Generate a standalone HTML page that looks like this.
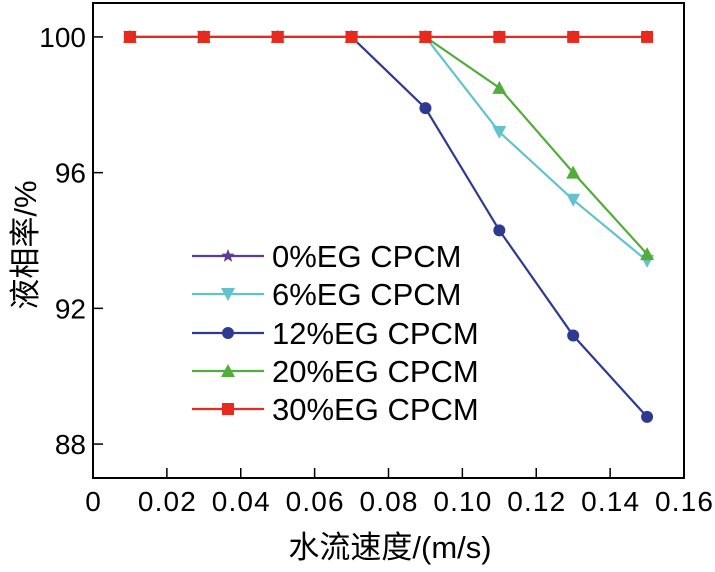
<!DOCTYPE html>
<html><head><meta charset="utf-8"><style>
html,body{margin:0;padding:0;background:#fff;}
svg text{font-family:"Liberation Sans","Noto Sans CJK SC",sans-serif;fill:#000;}
</style></head><body>
<svg id="chart" width="715" height="567" xmlns="http://www.w3.org/2000/svg"></svg>
<script>
const xValues=[0.01,0.03,0.05,0.07,0.09,0.11,0.13,0.15];
const s0=[100,100,100,100,100,100,100,100];
const s6=[100,100,100,100,100,97.2,95.2,93.4];
const s12=[100,100,100,100,97.9,94.3,91.2,88.8];
const s20=[100,100,100,100,100,98.5,96.0,93.6];
const s30=[100,100,100,100,100,100,100,100];
const xTicks=[0,0.02,0.04,0.06,0.08,0.10,0.12,0.14,0.16];
const xTickLabels=["0","0.02","0.04","0.06","0.08","0.10","0.12","0.14","0.16"];
const yTicks=[88,92,96,100];
const seriesNames=["0%EG CPCM","6%EG CPCM","12%EG CPCM","20%EG CPCM","30%EG CPCM"];

const L=93,R=684,T=3,B=478;
const x=v=>L+(v-0)/(0.16)*(R-L);
const y=v=>B-(v-87)/(101-87)*(B-T);
const NS="http://www.w3.org/2000/svg";
const svg=document.getElementById('chart');
function mk(tag,attrs,parent){const e=document.createElementNS(NS,tag);for(const k in attrs)e.setAttribute(k,attrs[k]);(parent||svg).appendChild(e);return e;}

const frame=mk('rect',{x:L,y:T,width:R-L,height:B-T,fill:'none',stroke:'#000','stroke-width':2});



xTicks.forEach((t,i)=>{
  if(i>0&&i<xTicks.length-1){const tk=mk('line',{x1:x(t),x2:x(t),y1:B,y2:B-10,stroke:'#000','stroke-width':1.5});
  
  }
  const tx=mk('text',{x:x(t),y:511,'text-anchor':'middle','font-size':28});
  if(i>0)tx.setAttribute('textLength',58);
  tx.textContent=xTickLabels[i];
  
  
});
yTicks.forEach(t=>{
  const tk=mk('line',{x1:L,x2:L+10,y1:y(t),y2:y(t),stroke:'#000','stroke-width':1.5});
  
  
  const tx=mk('text',{x:86,y:y(t)+10,'text-anchor':'end','font-size':28});
  tx.textContent=String(t);
  
  
});
const xt=mk('text',{x:390,y:558,'text-anchor':'middle','font-size':31});
xt.textContent='水流速度/(m/s)';


const yt=mk('text',{x:0,y:0,'text-anchor':'middle','font-size':31,transform:'translate(36,245) rotate(-90)'});
yt.textContent='液相率/%';



function marker(kind,cx,cy,color,g){
  if(kind==='star'){let p=[];for(let i=0;i<10;i++){const r=i%2?3:7,a=-Math.PI/2+i*Math.PI/5;p.push((cx+r*Math.cos(a)).toFixed(1)+','+(cy+r*Math.sin(a)).toFixed(1));}return mk('polygon',{points:p.join(' '),fill:color},g);}
  if(kind==='down')return mk('polygon',{points:`${cx-7},${cy-6} ${cx+7},${cy-6} ${cx},${cy+7}`,fill:color},g);
  if(kind==='circle')return mk('circle',{cx,cy,r:6,fill:color},g);
  if(kind==='up')return mk('polygon',{points:`${cx-7},${cy+6} ${cx+7},${cy+6} ${cx},${cy-7}`,fill:color},g);
  return mk('rect',{x:cx-6,y:cy-6,width:12,height:12,fill:color},g);
}
const series=[
 {d:s0,c:'#5b3c96',m:'star',n:'series-0eg'},
 {d:s6,c:'#62c3cc',m:'down',n:'series-6eg'},
 {d:s12,c:'#2d3a8f',m:'circle',n:'series-12eg'},
 {d:s20,c:'#52ad3a',m:'up',n:'series-20eg'},
 {d:s30,c:'#e8291d',m:'square',n:'series-30eg'}];
series.forEach(s=>{
  const g=mk('g',{});
  
  
  mk('polyline',{points:s.d.map((v,i)=>x(xValues[i])+','+y(v)).join(' '),fill:'none',stroke:s.c,'stroke-width':2.2},g);
  s.d.forEach((v,i)=>{const mm=marker(s.m,x(xValues[i]),y(v),s.c,g);
    
    });
});
const lg=mk('g',{});


const rows=[256,294,333,371,409];
series.forEach((s,i)=>{
  const e=mk('g',{},lg);
  
  
  mk('line',{x1:192,x2:264,y1:rows[i],y2:rows[i],stroke:s.c,'stroke-width':2.2},e);
  marker(s.m,228,rows[i],s.c,e);
  const t=mk('text',{x:272,y:rows[i]+11,'font-size':31},e);
  t.textContent=seriesNames[i];
});
</script>
</body></html>
